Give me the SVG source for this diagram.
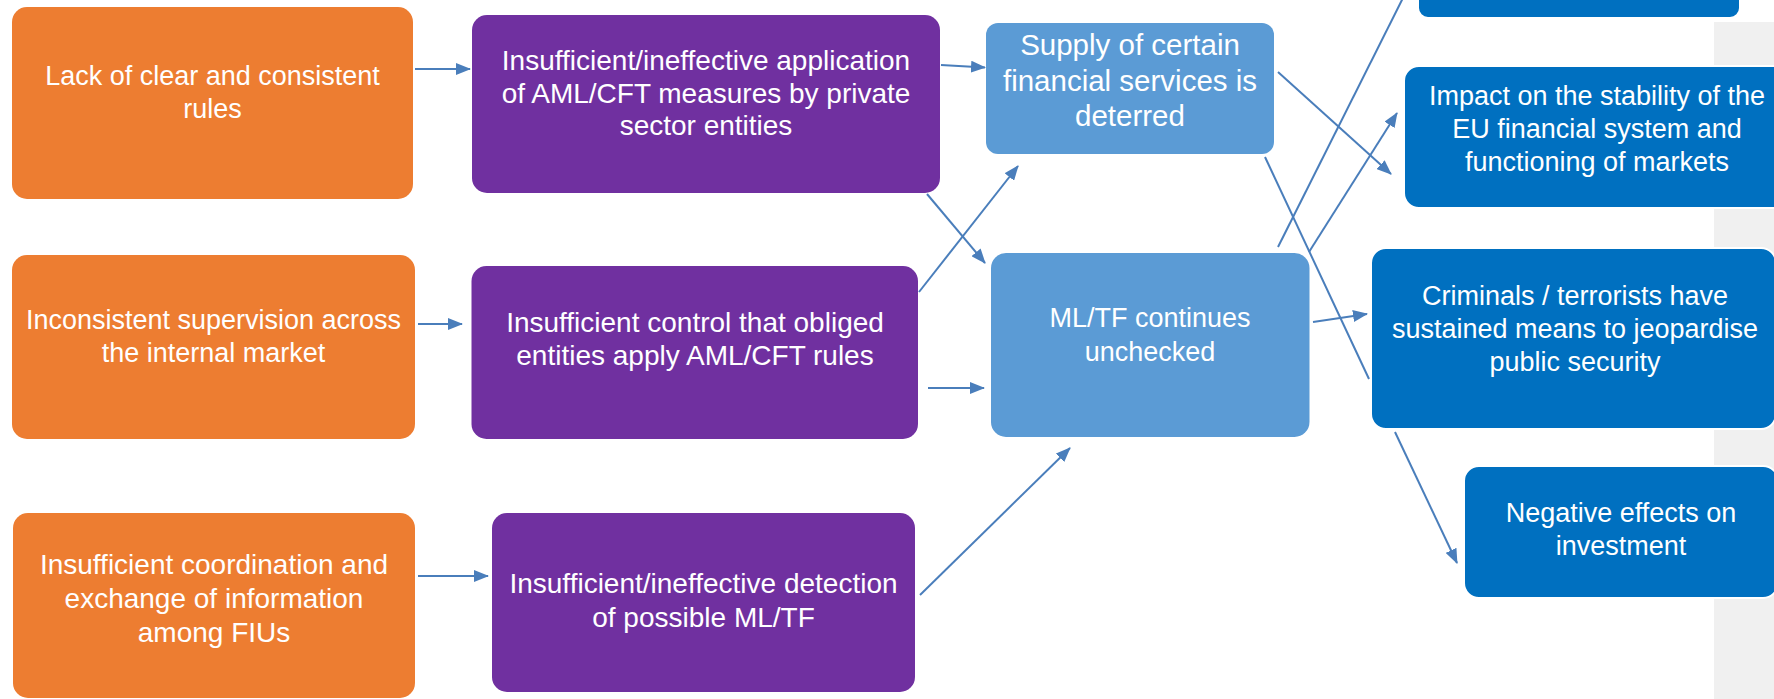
<svg xmlns="http://www.w3.org/2000/svg" width="1774" height="699" viewBox="0 0 1774 699">
<defs>
<style>
.t{font-family:"Liberation Sans",Arial,sans-serif;fill:#fff;text-anchor:middle}
.f28{font-size:28px}
.f27{font-size:27px}
.f29{font-size:29.5px}
.or{fill:#ED7D31}
.pu{fill:#7030A0}
.lb{fill:#5B9BD5}
.db{fill:#0070C0;stroke:#fff;stroke-width:2}
.c line{stroke:#4A7EBB;stroke-width:2;fill:none}
</style>
<marker id="ah" viewBox="0 0 15 12" refX="14" refY="6" markerWidth="15" markerHeight="12" markerUnits="userSpaceOnUse" orient="auto">
<path d="M0,0 L15,6 L0,12 z" fill="#4A7EBB"/>
</marker>
</defs>
<rect x="0" y="0" width="1774" height="699" fill="#fff"/>
<rect x="1714" y="22" width="60" height="677" fill="#F0F0F0"/>

<g id="n-lack-rules">
<rect class="or" x="12" y="7" width="401" height="192" rx="15"/>
<text class="t f27" x="212.5" y="85">Lack of clear and consistent</text>
<text class="t f27" x="212.5" y="118">rules</text>
</g>
<g id="n-inconsistent-supervision">
<rect class="or" x="12" y="255" width="403" height="184" rx="15"/>
<text class="t f27" x="213.5" y="329">Inconsistent supervision across</text>
<text class="t f27" x="213.5" y="362">the internal market</text>
</g>
<g id="n-insufficient-coordination">
<rect class="or" x="13" y="513" width="402" height="185" rx="15"/>
<text class="t f28" x="214" y="574">Insufficient coordination and</text>
<text class="t f28" x="214" y="608">exchange of information</text>
<text class="t f28" x="214" y="642">among FIUs</text>
</g>
<g id="n-application">
<rect class="pu" x="472" y="15" width="468" height="178" rx="15"/>
<text class="t f28" x="706" y="70">Insufficient/ineffective application</text>
<text class="t f28" x="706" y="102.5">of AML/CFT measures by private</text>
<text class="t f28" x="706" y="135">sector entities</text>
</g>
<g id="n-control">
<rect class="pu" x="471.5" y="266" width="446.5" height="173" rx="15"/>
<text class="t f28" x="695" y="331.5">Insufficient control that obliged</text>
<text class="t f28" x="695" y="365">entities apply AML/CFT rules</text>
</g>
<g id="n-detection">
<rect class="pu" x="492" y="513" width="423" height="179" rx="15"/>
<text class="t f28" x="703.5" y="593">Insufficient/ineffective detection</text>
<text class="t f28" x="703.5" y="627">of possible ML/TF</text>
</g>
<g id="n-supply">
<rect class="lb" x="986" y="23" width="288" height="131" rx="12"/>
<text class="t f29" x="1130" y="55">Supply of certain</text>
<text class="t f29" x="1130" y="90.5">financial services is</text>
<text class="t f29" x="1130" y="126">deterred</text>
</g>
<g id="n-mltf">
<rect class="lb" x="991" y="253" width="318.5" height="184" rx="15"/>
<text class="t f27" x="1150" y="327">ML/TF continues</text>
<text class="t f27" x="1150" y="361">unchecked</text>
</g>
<g id="n-top">
<rect class="db" x="1418" y="-40" width="322" height="58" rx="10"/>
</g>
<g id="n-impact">
<rect class="db" x="1404" y="66" width="386" height="142" rx="15"/>
<text class="t f27" x="1597" y="105">Impact on the stability of the</text>
<text class="t f27" x="1597" y="138">EU financial system and</text>
<text class="t f27" x="1597" y="170.5">functioning of markets</text>
</g>
<g id="n-criminals">
<rect class="db" x="1371" y="248" width="405" height="181" rx="15"/>
<text class="t f27" x="1575" y="305">Criminals / terrorists have</text>
<text class="t f27" x="1575" y="338">sustained means to jeopardise</text>
<text class="t f27" x="1575" y="371">public security</text>
</g>
<g id="n-negative">
<rect class="db" x="1464" y="466" width="314" height="132" rx="15"/>
<text class="t f27" x="1621" y="522">Negative effects on</text>
<text class="t f27" x="1621" y="555">investment</text>
</g>

<g id="connectors" class="c">
<line x1="415" y1="69" x2="470" y2="69" marker-end="url(#ah)"/>
<line x1="418" y1="324" x2="462" y2="324" marker-end="url(#ah)"/>
<line x1="418" y1="576" x2="488" y2="576" marker-end="url(#ah)"/>
<line x1="941" y1="65" x2="985" y2="67.5" marker-end="url(#ah)"/>
<line x1="927" y1="194" x2="985" y2="263" marker-end="url(#ah)"/>
<line x1="919" y1="292" x2="1018" y2="166" marker-end="url(#ah)"/>
<line x1="928" y1="388" x2="984" y2="388" marker-end="url(#ah)"/>
<line x1="920" y1="595" x2="1070" y2="448" marker-end="url(#ah)"/>
<line x1="1278" y1="72" x2="1391" y2="174" marker-end="url(#ah)"/>
<line x1="1265" y1="157" x2="1369" y2="379"/>
<line x1="1278" y1="247" x2="1412" y2="-20"/>
<line x1="1309" y1="252" x2="1397" y2="113" marker-end="url(#ah)"/>
<line x1="1313" y1="322" x2="1367" y2="314" marker-end="url(#ah)"/>
<line x1="1395" y1="432" x2="1457" y2="563" marker-end="url(#ah)"/>
</g>
</svg>
